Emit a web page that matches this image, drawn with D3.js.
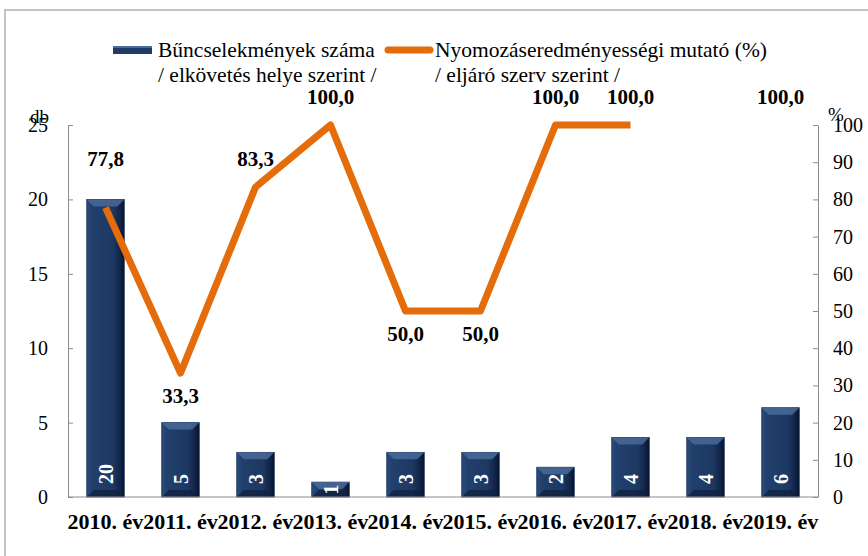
<!DOCTYPE html>
<html>
<head>
<meta charset="utf-8">
<script src="https://cdn.jsdelivr.net/npm/d3@7"></script>
<style>
  body { margin: 0; background: #fff; }
  svg text { font-family: "Liberation Serif", serif; }
</style>
</head>
<body>
<div id="chart"></div>
<script>
// data
const years = ["2010. év", "2011. év", "2012. év", "2013. év", "2014. év",
               "2015. év", "2016. év", "2017. év", "2018. év", "2019. év"];
const crimeCounts = [20, 5, 3, 1, 3, 3, 2, 4, 4, 6];
const clearanceRate = [77.8, 33.3, 83.3, 100, 50, 50, 100, 100, null, 100];
const rateLabelPlace = ["high", "below", "above", "above", "below", "below", "above", "above", "none", "above"];
const leftTicks = [0, 5, 10, 15, 20, 25];
const rightTicks = [0, 10, 20, 30, 40, 50, 60, 70, 80, 90, 100];
const legendBar = ["Bűncselekmények száma", "/ elkövetés helye szerint /"];
const legendLine = ["Nyomozáseredményességi mutató (%)", "/ eljáró szerv szerint /"];

function draw() {
    const W = 868, H = 556;
    const plot = {left: 68, right: 818, top: 125, bottom: 497};
    const navy = "#1f3b66", orange = "#e46c0a", axisGray = "#8c8c8c";
    const serif = "Liberation Serif, serif";

    const svg = d3.select("#chart").append("svg")
        .attr("width", W).attr("height", H)
        .attr("font-family", serif);

    // bar bevel gradient
    const defs = svg.append("defs");
    const g = defs.append("linearGradient").attr("id", "barGrad")
        .attr("x1", "0%").attr("x2", "100%").attr("y1", "0%").attr("y2", "0%");
    g.append("stop").attr("offset", "0%").attr("stop-color", "#2c4c7c");
    g.append("stop").attr("offset", "14%").attr("stop-color", "#21406c");
    g.append("stop").attr("offset", "70%").attr("stop-color", "#1d3862");
    g.append("stop").attr("offset", "88%").attr("stop-color", "#11254a");
    g.append("stop").attr("offset", "100%").attr("stop-color", "#06122a");

    // outer frame
    svg.append("rect")
        .attr("x", 5).attr("y", 10).attr("width", W + 20).attr("height", H + 20)
        .attr("fill", "none").attr("stroke", "#c4c4c4").attr("stroke-width", 2);

    const x = d3.scaleBand()
        .domain(years)
        .range([plot.left, plot.right])
        .paddingInner(0.5).paddingOuter(0.25);
    const yL = d3.scaleLinear().domain([0, 25]).range([plot.bottom, plot.top]);
    const yR = d3.scaleLinear().domain([0, 100]).range([plot.bottom, plot.top]);

    // left axis
    const axL = svg.append("g")
        .attr("transform", "translate(" + plot.left + ",0)")
        .call(d3.axisLeft(yL).tickValues(leftTicks).tickSizeInner(-5).tickSizeOuter(0).tickPadding(20));
    // right axis
    const axR = svg.append("g")
        .attr("transform", "translate(" + plot.right + ",0)")
        .call(d3.axisRight(yR).tickValues(rightTicks).tickSizeInner(-5).tickSizeOuter(0).tickPadding(15));
    [axL, axR].forEach(function (ax) {
        ax.attr("font-family", serif).attr("font-size", 20);
        ax.select(".domain").attr("stroke", axisGray);
        ax.selectAll(".tick line").attr("stroke", axisGray);
        ax.selectAll(".tick text").attr("fill", "#000");
    });

    // axis titles (sit on top of the highest tick label, as in the original)
    svg.append("text").attr("x", 30).attr("y", 123)
        .attr("font-size", 19).text("db");
    svg.append("text").attr("x", 828).attr("y", 121)
        .attr("font-size", 19).text("%");

    // bars
    const bars = svg.append("g");
    crimeCounts.forEach(function (v, i) {
        const x0 = x(years[i]), bw = x.bandwidth();
        const y0 = yL(v), y1 = yL(0);
        const b = Math.min(7, (y1 - y0) / 2);
        bars.append("rect")
            .attr("x", x0).attr("y", y0)
            .attr("width", bw).attr("height", y1 - y0)
            .attr("fill", "url(#barGrad)")
            .attr("stroke", "#17305a").attr("stroke-width", 0.8);
        // top bevel
        bars.append("path")
            .attr("d", "M" + x0 + "," + y0 + "L" + (x0 + bw) + "," + y0 +
                "L" + (x0 + bw - b) + "," + (y0 + b) + "L" + (x0 + b) + "," + (y0 + b) + "Z")
            .attr("fill", "#4a6a98").attr("opacity", 0.85);
        // bottom bevel
        bars.append("path")
            .attr("d", "M" + x0 + "," + y1 + "L" + (x0 + bw) + "," + y1 +
                "L" + (x0 + bw - b) + "," + (y1 - b) + "L" + (x0 + b) + "," + (y1 - b) + "Z")
            .attr("fill", "#0f2242").attr("opacity", 0.8);

        // value inside base, rotated
        const cx = x0 + bw / 2;
        const small = (y1 - y0) < 22;
        const ty = small ? (y0 + y1) / 2 : y1 - 13;
        bars.append("text")
            .attr("transform", "translate(" + cx + "," + ty + ")rotate(-90)")
            .attr("text-anchor", small ? "middle" : "start")
            .attr("dominant-baseline", "central")
            .attr("font-size", 20).attr("font-weight", 700)
            .attr("fill", "#fff")
            .text(v);
    });

    // line (a lone point with no neighbour is not drawn, like 2019)
    const pts = clearanceRate.map(function (v, i) { return {i: i, v: v}; });
    function hasNeighbour(i) {
        return (i > 0 && clearanceRate[i - 1] != null) ||
               (i < clearanceRate.length - 1 && clearanceRate[i + 1] != null);
    }
    svg.append("path")
        .datum(pts)
        .attr("fill", "none")
        .attr("stroke", orange)
        .attr("stroke-width", 7)
        .attr("stroke-linejoin", "round")
        .attr("stroke-linecap", "butt")
        .attr("d", d3.line()
            .defined(function (d) { return d.v != null && hasNeighbour(d.i); })
            .x(function (d) { return x(years[d.i]) + x.bandwidth() / 2; })
            .y(function (d) { return yR(d.v); }));

    // line labels
    const shift = {high: -49, above: -28, below: 23};
    pts.forEach(function (d) {
        if (d.v == null || rateLabelPlace[d.i] === "none") return;
        svg.append("text")
            .attr("x", x(years[d.i]) + x.bandwidth() / 2)
            .attr("y", yR(d.v) + shift[rateLabelPlace[d.i]])
            .attr("text-anchor", "middle")
            .attr("dominant-baseline", "central")
            .attr("font-size", 21).attr("font-weight", 700)
            .text(d3.format(".1f")(d.v).replace(".", ","));
    });

    // bottom axis line and category labels
    svg.append("line")
        .attr("x1", plot.left).attr("x2", plot.right)
        .attr("y1", plot.bottom).attr("y2", plot.bottom)
        .attr("stroke", axisGray);
    svg.append("g").selectAll("text")
        .data(years).join("text")
        .attr("x", function (d) { return x(d) + x.bandwidth() / 2; })
        .attr("y", 529)
        .attr("text-anchor", "middle")
        .attr("font-size", 22).attr("font-weight", 700)
        .text(function (d) { return d; });

    // legend
    const leg = svg.append("g").attr("font-size", 21.5);
    leg.append("rect").attr("x", 113).attr("y", 46).attr("width", 39).attr("height", 8)
        .attr("fill", navy);
    leg.append("rect").attr("x", 113).attr("y", 46).attr("width", 39).attr("height", 2)
        .attr("fill", "#4a6a98");
    leg.append("line").attr("x1", 388).attr("x2", 430).attr("y1", 50).attr("y2", 50)
        .attr("stroke", orange).attr("stroke-width", 7).attr("stroke-linecap", "round");
    legendBar.forEach(function (t, k) {
        leg.append("text").attr("x", 158).attr("y", 57 + k * 25).text(t);
    });
    legendLine.forEach(function (t, k) {
        leg.append("text").attr("x", 435).attr("y", 57 + k * 25).text(t);
    });
}
draw();
</script>
</body>
</html>
